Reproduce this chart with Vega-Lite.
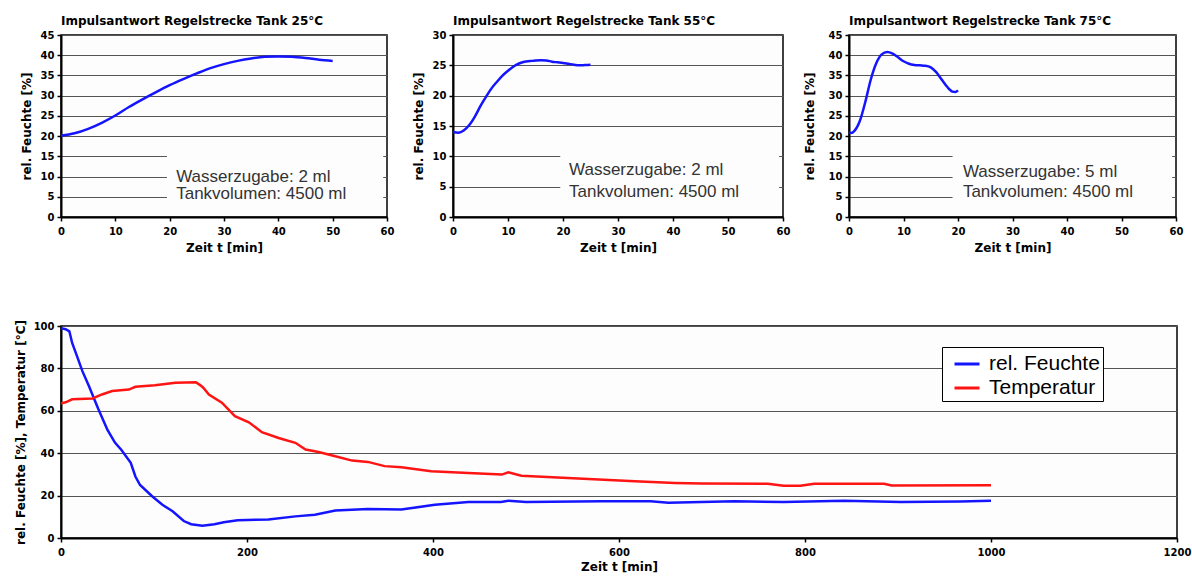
{
  "$schema": "https://vega.github.io/schema/vega-lite/v6.json",
  "background": "white",
  "padding": {"left": 13, "top": 14, "right": 4, "bottom": 2},
  "autosize": {"type": "pad"},
  "config": {
    "font": "DejaVu Sans",
    "view": {"stroke": "#000", "strokeWidth": 1.5, "fill": "#fdfdfd"},
    "axis": {
      "labelFont": "DejaVu Sans", "labelFontWeight": "bold", "labelFontSize": 10, "labelColor": "#000",
      "titleFont": "DejaVu Sans", "titleFontWeight": "bold", "titleFontSize": 12, "titleColor": "#000",
      "domainColor": "#000", "domainWidth": 2, "tickColor": "#000", "tickSize": 4, "tickWidth": 1.5,
      "gridColor": "#555", "gridWidth": 1, "labelPadding": 3, "labelOverlap": false, "format": "d"
    },
    "axisX": {"grid": false, "labelPadding": 5, "titlePadding": 6, "labelFlush": false},
    "axisY": {"grid": true, "titlePadding": 7},
    "title": {"anchor": "start", "frame": "group", "font": "DejaVu Sans", "fontSize": 12, "fontWeight": "bold", "offset": 2, "color": "#000"}
  },
  "spacing": 64,
  "vconcat": [
    {
      "bounds": "flush",
      "spacing": 66,
      "hconcat": [
        {
          "width": 326, "height": 182,
          "title": "Impulsantwort Regelstrecke Tank 25°C",
          "layer": [
            {
              "data": {"values": [{"x1": 19.5, "x2": 59.3, "y1": 1, "y2": 17.5}]},
              "mark": {"type": "rect", "fill": "#fdfdfd"},
              "encoding": {
                "x": {"field": "x1", "type": "quantitative", "scale": {"domain": [0, 60]}, "axis": {"title": "Zeit t [min]", "values": [0, 10, 20, 30, 40, 50, 60]}},
                "x2": {"field": "x2"},
                "y": {"field": "y1", "type": "quantitative", "scale": {"domain": [0, 45]}, "axis": {"title": "rel. Feuchte [%]", "values": [0, 5, 10, 15, 20, 25, 30, 35, 40, 45]}},
                "y2": {"field": "y2"}
              }
            },
            {
              "data": {"values": [
                {"t": 0, "v": 20.1}, {"t": 2.5, "v": 20.7}, {"t": 5, "v": 21.8}, {"t": 7.5, "v": 23.3},
                {"t": 10, "v": 25.1}, {"t": 12.5, "v": 27.2}, {"t": 15, "v": 29.1}, {"t": 17.5, "v": 30.9},
                {"t": 20, "v": 32.6}, {"t": 22.5, "v": 34.1}, {"t": 25, "v": 35.5}, {"t": 27.5, "v": 36.8},
                {"t": 30, "v": 37.8}, {"t": 32.5, "v": 38.6}, {"t": 35, "v": 39.2}, {"t": 37.5, "v": 39.6},
                {"t": 40, "v": 39.7}, {"t": 42.5, "v": 39.6}, {"t": 45, "v": 39.3}, {"t": 47.5, "v": 38.9},
                {"t": 50, "v": 38.6}
              ]},
              "mark": {"type": "line", "color": "#1414ff", "strokeWidth": 2.5, "interpolate": "monotone"},
              "encoding": {
                "x": {"field": "t", "type": "quantitative", "scale": {"domain": [0, 60]}, "axis": {"title": "Zeit t [min]", "values": [0, 10, 20, 30, 40, 50, 60]}},
                "y": {"field": "v", "type": "quantitative", "scale": {"domain": [0, 45]}, "axis": {"title": "rel. Feuchte [%]", "values": [0, 5, 10, 15, 20, 25, 30, 35, 40, 45]}}
              }
            },
            {
              "data": {"values": [
                {"t": 21.2, "v": 9.9, "label": "Wasserzugabe: 2 ml"},
                {"t": 21.2, "v": 5.7, "label": "Tankvolumen: 4500 ml"}
              ]},
              "mark": {"type": "text", "align": "left", "baseline": "middle", "font": "Liberation Sans", "fontSize": 17, "color": "#333"},
              "encoding": {
                "x": {"field": "t", "type": "quantitative", "scale": {"domain": [0, 60]}, "axis": {"title": "Zeit t [min]", "values": [0, 10, 20, 30, 40, 50, 60]}},
                "y": {"field": "v", "type": "quantitative", "scale": {"domain": [0, 45]}, "axis": {"title": "rel. Feuchte [%]", "values": [0, 5, 10, 15, 20, 25, 30, 35, 40, 45]}},
                "text": {"field": "label"}
              }
            }
          ]
        },
        {
          "width": 330, "height": 182,
          "title": "Impulsantwort Regelstrecke Tank 55°C",
          "layer": [
            {
              "data": {"values": [{"x1": 19.5, "x2": 59.3, "y1": 0.7, "y2": 12}]},
              "mark": {"type": "rect", "fill": "#fdfdfd"},
              "encoding": {
                "x": {"field": "x1", "type": "quantitative", "scale": {"domain": [0, 60]}, "axis": {"title": "Zeit t [min]", "values": [0, 10, 20, 30, 40, 50, 60]}},
                "x2": {"field": "x2"},
                "y": {"field": "y1", "type": "quantitative", "scale": {"domain": [0, 30]}, "axis": {"title": "rel. Feuchte [%]", "values": [0, 5, 10, 15, 20, 25, 30]}},
                "y2": {"field": "y2"}
              }
            },
            {
              "data": {"values": [
                {"t": 0, "v": 14.0}, {"t": 1, "v": 13.9}, {"t": 2, "v": 14.3}, {"t": 3, "v": 15.2},
                {"t": 4, "v": 16.6}, {"t": 5, "v": 18.3}, {"t": 6, "v": 19.8}, {"t": 7, "v": 21.2},
                {"t": 8, "v": 22.3}, {"t": 9, "v": 23.3}, {"t": 10, "v": 24.1}, {"t": 11, "v": 24.8},
                {"t": 12, "v": 25.3}, {"t": 13, "v": 25.6}, {"t": 14, "v": 25.7}, {"t": 15, "v": 25.8},
                {"t": 16, "v": 25.85}, {"t": 17, "v": 25.8}, {"t": 18, "v": 25.6}, {"t": 19, "v": 25.5},
                {"t": 20, "v": 25.4}, {"t": 21, "v": 25.25}, {"t": 22, "v": 25.1}, {"t": 23, "v": 25.0},
                {"t": 24, "v": 25.05}, {"t": 25, "v": 25.1}
              ]},
              "mark": {"type": "line", "color": "#1414ff", "strokeWidth": 2.5, "interpolate": "monotone"},
              "encoding": {
                "x": {"field": "t", "type": "quantitative", "scale": {"domain": [0, 60]}, "axis": {"title": "Zeit t [min]", "values": [0, 10, 20, 30, 40, 50, 60]}},
                "y": {"field": "v", "type": "quantitative", "scale": {"domain": [0, 30]}, "axis": {"title": "rel. Feuchte [%]", "values": [0, 5, 10, 15, 20, 25, 30]}}
              }
            },
            {
              "data": {"values": [
                {"t": 21.1, "v": 7.7, "label": "Wasserzugabe: 2 ml"},
                {"t": 21.1, "v": 4.2, "label": "Tankvolumen: 4500 ml"}
              ]},
              "mark": {"type": "text", "align": "left", "baseline": "middle", "font": "Liberation Sans", "fontSize": 17, "color": "#333"},
              "encoding": {
                "x": {"field": "t", "type": "quantitative", "scale": {"domain": [0, 60]}, "axis": {"title": "Zeit t [min]", "values": [0, 10, 20, 30, 40, 50, 60]}},
                "y": {"field": "v", "type": "quantitative", "scale": {"domain": [0, 30]}, "axis": {"title": "rel. Feuchte [%]", "values": [0, 5, 10, 15, 20, 25, 30]}},
                "text": {"field": "label"}
              }
            }
          ]
        },
        {
          "width": 327, "height": 182,
          "title": "Impulsantwort Regelstrecke Tank 75°C",
          "layer": [
            {
              "data": {"values": [{"x1": 19, "x2": 59.3, "y1": 1, "y2": 17.5}]},
              "mark": {"type": "rect", "fill": "#fdfdfd"},
              "encoding": {
                "x": {"field": "x1", "type": "quantitative", "scale": {"domain": [0, 60]}, "axis": {"title": "Zeit t [min]", "values": [0, 10, 20, 30, 40, 50, 60]}},
                "x2": {"field": "x2"},
                "y": {"field": "y1", "type": "quantitative", "scale": {"domain": [0, 45]}, "axis": {"title": "rel. Feuchte [%]", "values": [0, 5, 10, 15, 20, 25, 30, 35, 40, 45], "titlePadding": 12}},
                "y2": {"field": "y2"}
              }
            },
            {
              "data": {"values": [
                {"t": 0, "v": 20.9}, {"t": 0.5, "v": 20.8}, {"t": 1, "v": 21.3}, {"t": 2, "v": 23.8},
                {"t": 3, "v": 28.5}, {"t": 4, "v": 34.0}, {"t": 5, "v": 38.0}, {"t": 6, "v": 40.2},
                {"t": 7, "v": 40.8}, {"t": 8, "v": 40.4}, {"t": 9, "v": 39.5}, {"t": 10, "v": 38.5},
                {"t": 11, "v": 37.9}, {"t": 12, "v": 37.6}, {"t": 13, "v": 37.5}, {"t": 14, "v": 37.4},
                {"t": 15, "v": 37.0}, {"t": 16, "v": 35.8}, {"t": 17, "v": 34.0}, {"t": 18, "v": 32.2},
                {"t": 19, "v": 31.0}, {"t": 19.5, "v": 30.9}, {"t": 20, "v": 31.3}
              ]},
              "mark": {"type": "line", "color": "#1414ff", "strokeWidth": 2.5, "interpolate": "monotone"},
              "encoding": {
                "x": {"field": "t", "type": "quantitative", "scale": {"domain": [0, 60]}, "axis": {"title": "Zeit t [min]", "values": [0, 10, 20, 30, 40, 50, 60]}},
                "y": {"field": "v", "type": "quantitative", "scale": {"domain": [0, 45]}, "axis": {"title": "rel. Feuchte [%]", "values": [0, 5, 10, 15, 20, 25, 30, 35, 40, 45], "titlePadding": 12}}
              }
            },
            {
              "data": {"values": [
                {"t": 20.9, "v": 11.1, "label": "Wasserzugabe: 5 ml"},
                {"t": 20.9, "v": 6.1, "label": "Tankvolumen: 4500 ml"}
              ]},
              "mark": {"type": "text", "align": "left", "baseline": "middle", "font": "Liberation Sans", "fontSize": 17, "color": "#333"},
              "encoding": {
                "x": {"field": "t", "type": "quantitative", "scale": {"domain": [0, 60]}, "axis": {"title": "Zeit t [min]", "values": [0, 10, 20, 30, 40, 50, 60]}},
                "y": {"field": "v", "type": "quantitative", "scale": {"domain": [0, 45]}, "axis": {"title": "rel. Feuchte [%]", "values": [0, 5, 10, 15, 20, 25, 30, 35, 40, 45], "titlePadding": 12}},
                "text": {"field": "label"}
              }
            }
          ]
        }
      ]
    },
    {
      "width": 1116, "height": 212,
      "data": {"values": [
        {"t": 0, "v": 99, "s": "rel. Feuchte"}, {"t": 5, "v": 98.5, "s": "rel. Feuchte"}, {"t": 9, "v": 97.5, "s": "rel. Feuchte"},
        {"t": 12, "v": 92, "s": "rel. Feuchte"}, {"t": 17, "v": 86, "s": "rel. Feuchte"}, {"t": 23, "v": 78.7, "s": "rel. Feuchte"},
        {"t": 30, "v": 71.7, "s": "rel. Feuchte"}, {"t": 40, "v": 61, "s": "rel. Feuchte"}, {"t": 50, "v": 51, "s": "rel. Feuchte"},
        {"t": 58, "v": 45, "s": "rel. Feuchte"}, {"t": 65, "v": 41.5, "s": "rel. Feuchte"}, {"t": 75, "v": 35.5, "s": "rel. Feuchte"},
        {"t": 80, "v": 29, "s": "rel. Feuchte"}, {"t": 85, "v": 25, "s": "rel. Feuchte"}, {"t": 98, "v": 19.7, "s": "rel. Feuchte"},
        {"t": 109, "v": 15.7, "s": "rel. Feuchte"}, {"t": 120, "v": 12.6, "s": "rel. Feuchte"}, {"t": 132, "v": 8, "s": "rel. Feuchte"},
        {"t": 140, "v": 6.5, "s": "rel. Feuchte"}, {"t": 152, "v": 5.8, "s": "rel. Feuchte"}, {"t": 165, "v": 6.5, "s": "rel. Feuchte"},
        {"t": 175, "v": 7.4, "s": "rel. Feuchte"}, {"t": 190, "v": 8.4, "s": "rel. Feuchte"}, {"t": 223, "v": 8.7, "s": "rel. Feuchte"},
        {"t": 252, "v": 10.2, "s": "rel. Feuchte"}, {"t": 273, "v": 11, "s": "rel. Feuchte"}, {"t": 295, "v": 13, "s": "rel. Feuchte"},
        {"t": 330, "v": 13.7, "s": "rel. Feuchte"}, {"t": 366, "v": 13.4, "s": "rel. Feuchte"}, {"t": 402, "v": 15.7, "s": "rel. Feuchte"},
        {"t": 438, "v": 17, "s": "rel. Feuchte"}, {"t": 473, "v": 17, "s": "rel. Feuchte"}, {"t": 481, "v": 17.6, "s": "rel. Feuchte"},
        {"t": 500, "v": 17, "s": "rel. Feuchte"}, {"t": 581, "v": 17.3, "s": "rel. Feuchte"}, {"t": 634, "v": 17.3, "s": "rel. Feuchte"},
        {"t": 653, "v": 16.6, "s": "rel. Feuchte"}, {"t": 724, "v": 17.3, "s": "rel. Feuchte"}, {"t": 777, "v": 17, "s": "rel. Feuchte"},
        {"t": 842, "v": 17.6, "s": "rel. Feuchte"}, {"t": 903, "v": 17, "s": "rel. Feuchte"}, {"t": 967, "v": 17.2, "s": "rel. Feuchte"},
        {"t": 1000, "v": 17.6, "s": "rel. Feuchte"},
        {"t": 0, "v": 63.5, "s": "Temperatur"}, {"t": 5, "v": 64, "s": "Temperatur"}, {"t": 12, "v": 65.4, "s": "Temperatur"},
        {"t": 34, "v": 65.8, "s": "Temperatur"}, {"t": 44, "v": 67.7, "s": "Temperatur"}, {"t": 55, "v": 69.3, "s": "Temperatur"},
        {"t": 73, "v": 70, "s": "Temperatur"}, {"t": 80, "v": 71.3, "s": "Temperatur"}, {"t": 101, "v": 72.1, "s": "Temperatur"},
        {"t": 123, "v": 73.2, "s": "Temperatur"}, {"t": 145, "v": 73.5, "s": "Temperatur"}, {"t": 150, "v": 72, "s": "Temperatur"},
        {"t": 153, "v": 70.9, "s": "Temperatur"}, {"t": 159, "v": 67.7, "s": "Temperatur"}, {"t": 173, "v": 63.8, "s": "Temperatur"},
        {"t": 187, "v": 57.5, "s": "Temperatur"}, {"t": 202, "v": 54.6, "s": "Temperatur"}, {"t": 216, "v": 49.9, "s": "Temperatur"},
        {"t": 234, "v": 47.2, "s": "Temperatur"}, {"t": 252, "v": 44.9, "s": "Temperatur"}, {"t": 263, "v": 41.7, "s": "Temperatur"},
        {"t": 277, "v": 40.6, "s": "Temperatur"}, {"t": 295, "v": 38.6, "s": "Temperatur"}, {"t": 313, "v": 36.5, "s": "Temperatur"},
        {"t": 330, "v": 35.9, "s": "Temperatur"}, {"t": 348, "v": 33.9, "s": "Temperatur"}, {"t": 366, "v": 33.4, "s": "Temperatur"},
        {"t": 398, "v": 31.5, "s": "Temperatur"}, {"t": 438, "v": 30.7, "s": "Temperatur"}, {"t": 474, "v": 29.9, "s": "Temperatur"},
        {"t": 481, "v": 31, "s": "Temperatur"}, {"t": 495, "v": 29.4, "s": "Temperatur"}, {"t": 545, "v": 28.3, "s": "Temperatur"},
        {"t": 617, "v": 26.8, "s": "Temperatur"}, {"t": 660, "v": 26, "s": "Temperatur"}, {"t": 689, "v": 25.7, "s": "Temperatur"},
        {"t": 760, "v": 25.6, "s": "Temperatur"}, {"t": 777, "v": 24.7, "s": "Temperatur"}, {"t": 795, "v": 24.7, "s": "Temperatur"},
        {"t": 810, "v": 25.6, "s": "Temperatur"}, {"t": 885, "v": 25.6, "s": "Temperatur"}, {"t": 893, "v": 24.8, "s": "Temperatur"},
        {"t": 1000, "v": 24.9, "s": "Temperatur"}
      ]},
      "mark": {"type": "line", "strokeWidth": 2.5},
      "encoding": {
        "x": {"field": "t", "type": "quantitative", "scale": {"domain": [0, 1200]}, "axis": {"title": "Zeit t [min]", "values": [0, 200, 400, 600, 800, 1000, 1200], "titlePadding": 4}},
        "y": {"field": "v", "type": "quantitative", "scale": {"domain": [0, 100]}, "axis": {"title": "rel. Feuchte [%], Temperatur [°C]", "values": [0, 20, 40, 60, 80, 100], "titlePadding": 6}},
        "color": {
          "field": "s", "type": "nominal",
          "scale": {"domain": ["rel. Feuchte", "Temperatur"], "range": ["#1414ff", "#ff1414"]},
          "legend": {
            "title": null, "orient": "none", "legendX": 881, "legendY": 312,
            "symbolType": "stroke", "symbolStrokeWidth": 3, "symbolSize": 625, "symbolOffset": 8,
            "labelFont": "Liberation Sans", "labelFontSize": 21, "labelColor": "#000", "labelLimit": 300,
            "labelExpr": "datum.label + '\u00a0\u00a0\u00a0\u00a0\u00a0'",
            "strokeColor": "#000", "fillColor": "#fff", "padding": 3, "rowPadding": 0,
            "labelOffset": 8
          }
        }
      }
    }
  ]
}
